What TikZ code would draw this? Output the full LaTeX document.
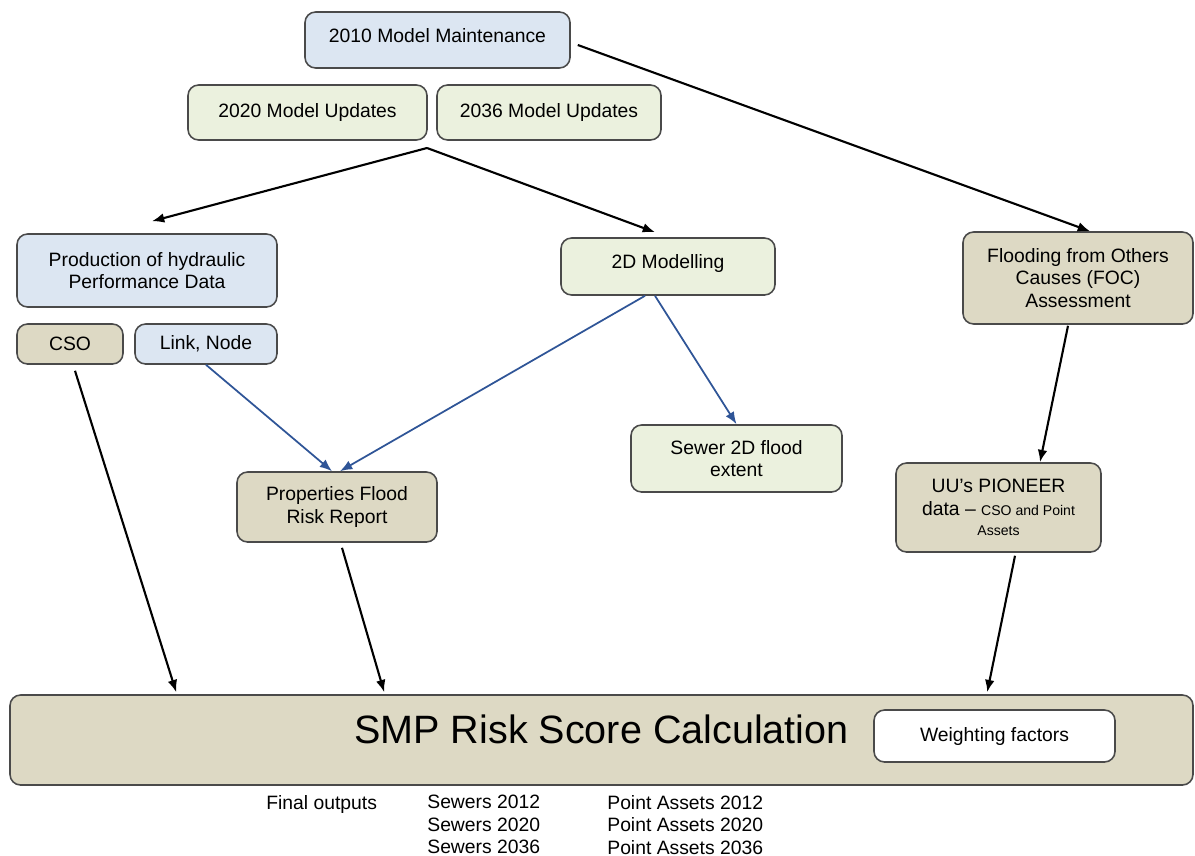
\documentclass[tikz,border=0pt]{standalone}
\usepackage{fontspec}
\setmainfont{Liberation Sans}
\usetikzlibrary{calc,positioning,arrows.meta}

\definecolor{boxblue}{HTML}{DCE6F2}
\definecolor{boxgreen}{HTML}{EBF1DE}
\definecolor{boxtan}{HTML}{DDD9C4}
\definecolor{boxline}{HTML}{4A4A4A}
\definecolor{arrowblue}{HTML}{2F5597}

\tikzset{
    stage/.style={rectangle, rounded corners=6pt, draw=boxline, line width=0.9pt, align=center, inner sep=2pt,
                  font=\fontsize{11}{12.8}\selectfont},
    bluebox/.style={stage, fill=boxblue},
    greenbox/.style={stage, fill=boxgreen},
    tanbox/.style={stage, fill=boxtan},
    flow/.style={-{Latex[length=7pt, width=5.5pt]}, line width=1.2pt, black},
    feed/.style={-{Latex[length=7pt, width=5.5pt]}, line width=1.0pt, arrowblue},
    outtext/.style={anchor=north west, align=left, inner sep=0pt, font=\fontsize{11}{12.8}\selectfont}
}

\begin{document}
\begin{tikzpicture}
                \useasboundingbox (0,0) rectangle (23.9,-17.12);

                % Nodes
                \node[bluebox, minimum width=5.30cm, minimum height=1.12cm, text depth=0.2cm] at (8.75, -0.80) (m2010) {2010 Model Maintenance};
                \node[greenbox, minimum width=4.78cm, minimum height=1.10cm] at (6.15, -2.25) (m2020) {2020 Model Updates};
                \node[greenbox, minimum width=4.48cm, minimum height=1.10cm] at (10.98, -2.25) (m2036) {2036 Model Updates};
                \coordinate (split) at (8.54, -2.96);

                \node[bluebox, minimum width=5.20cm, minimum height=1.46cm] at (2.94, -5.41) (prod) {Production of hydraulic\\Performance Data};
                \node[tanbox, minimum width=2.12cm, minimum height=0.80cm] at (1.40, -6.88) (cso) {CSO};
                \node[bluebox, minimum width=2.84cm, minimum height=0.80cm] at (4.12, -6.88) (link) {Link, Node};
                \node[greenbox, minimum width=4.28cm, minimum height=1.14cm, text depth=0.2cm] at (13.36, -5.33) (twod) {2D Modelling};
                \node[tanbox, minimum width=4.60cm, minimum height=1.84cm] at (21.56, -5.56) (foc) {Flooding from Others\\Causes (FOC)\\Assessment};

                \node[greenbox, minimum width=4.22cm, minimum height=1.34cm] at (14.73, -9.17) (sewer) {Sewer 2D flood\\extent};
                \node[tanbox, minimum width=4.00cm, minimum height=1.40cm] at (6.74, -10.14) (props) {Properties Flood\\Risk Report};
                \node[tanbox, minimum width=4.10cm, minimum height=1.78cm] at (19.97, -10.15) (pioneer)
                    {UU's PIONEER\\data -- {\fontsize{8}{9}\selectfont CSO and Point}\\[-1pt]{\fontsize{8}{9}\selectfont Assets}};

                \node[tanbox, minimum width=23.66cm, minimum height=1.80cm, text depth=0.45cm, font=\fontsize{22.5}{26}\selectfont] at (12.03, -14.80) (smp) {SMP Risk Score Calculation};
                \node[stage, fill=white, minimum width=4.82cm, minimum height=1.04cm] at (19.89, -14.72) (weight) {Weighting factors};

                % outputs under the calculation
                \node[outtext] at (5.32, -15.90) (final) {Final outputs};
                \node[outtext] at (8.54, -15.90) (sewers) {Sewers 2012\\Sewers 2020\\Sewers 2036};
                \node[outtext] at (12.14, -15.90) (points) {Point Assets 2012\\Point Assets 2020\\Point Assets 2036};

                % Connectors
                \draw[flow] (split) -- ([xshift=0.1cm, yshift=0.24cm]prod.north);
                \draw[flow] (split) -- ([xshift=-0.26cm, yshift=0.1cm]twod.north);
                \draw[flow] ([xshift=0.14cm, yshift=-0.1cm]m2010.east) -- ([xshift=0.24cm]foc.north);
                \draw[flow] ([xshift=-0.2cm, yshift=-0.02cm]foc.south) -- ([xshift=0.83cm]pioneer.north);
                \draw[flow] ([xshift=0.1cm, yshift=-0.12cm]cso.south) -- ([xshift=3.34cm, yshift=0.04cm]smp.north west);
                \draw[flow] ([xshift=0.1cm, yshift=-0.1cm]props.south) -- ([xshift=7.5cm, yshift=0.04cm]smp.north west);
                \draw[flow] ([xshift=0.33cm, yshift=-0.06cm]pioneer.south) -- ([xshift=19.56cm, yshift=0.04cm]smp.north west);

                \draw[feed] (link.south) -- ([xshift=-0.1cm]props.north);
                \draw[feed] ([xshift=-0.46cm]twod.south) -- ([xshift=0.06cm]props.north);
                \draw[feed] ([xshift=-0.26cm]twod.south) -- (sewer.north);

            \end{tikzpicture}
\end{document}
